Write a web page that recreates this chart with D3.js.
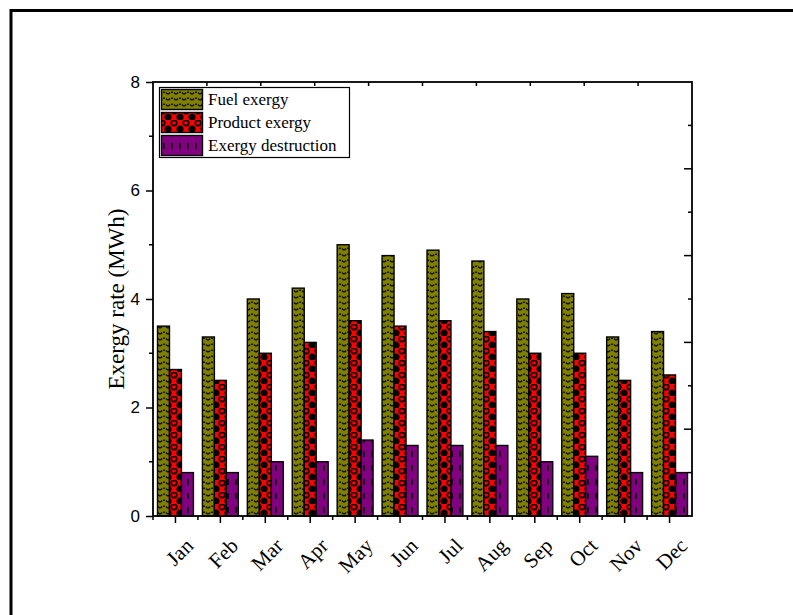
<!DOCTYPE html>
<html><head><meta charset="utf-8">
<script src="https://cdn.jsdelivr.net/npm/d3@7"></script>
<style>body{margin:0;background:#fff}svg{display:block}</style>
</head><body>
<svg id="c" width="793" height="615"></svg>
<script>
const months = ["Jan","Feb","Mar","Apr","May","Jun","Jul","Aug","Sep","Oct","Nov","Dec"];
const seriesNames = ["Fuel exergy","Product exergy","Exergy destruction"];
const fuelExergy = [3.5,3.3,4.0,4.2,5.0,4.8,4.9,4.7,4.0,4.1,3.3,3.4];
const productExergy = [2.7,2.5,3.0,3.2,3.6,3.5,3.6,3.4,3.0,3.0,2.5,2.6];
const exergyDestruction = [0.8,0.8,1.0,1.0,1.4,1.3,1.3,1.3,1.0,1.1,0.8,0.8];
const yTicks = [0,2,4,6,8];

const seriesValues = [fuelExergy, productExergy, exergyDestruction];
const svg = d3.select("#c");
const L=153, R=692, T=82, B=516;

// frame
svg.append("rect").attr("x",11).attr("y",10.5).attr("width",800).attr("height",620)
  .attr("fill","none").attr("stroke","#000").attr("stroke-width",3);

// patterns
const defs = svg.append("defs");
const p1 = defs.append("pattern").attr("id","pFuel").attr("patternUnits","userSpaceOnUse")
  .attr("width",8).attr("height",6);
p1.append("rect").attr("width",8).attr("height",6).attr("fill","#808000");
p1.append("path").attr("d","M0.3,4.2 Q4,0.2 7.7,4.2").attr("fill","none").attr("stroke","#000").attr("stroke-width",1.3).attr("stroke-dasharray","2.2,1");
const p2 = defs.append("pattern").attr("id","pProd").attr("patternUnits","userSpaceOnUse")
  .attr("width",12).attr("height",12);
p2.append("rect").attr("width",12).attr("height",12).attr("fill","#ff0000");
p2.append("circle").attr("cx",6).attr("cy",3).attr("r",3.6).attr("fill","#000");
p2.append("rect").attr("x",4.2).attr("y",1.5).attr("width",3.6).attr("height",3).attr("fill","#ff0000");
p2.append("circle").attr("cx",0).attr("cy",9).attr("r",3.6).attr("fill","#000");
p2.append("circle").attr("cx",12).attr("cy",9).attr("r",3.6).attr("fill","#000");
p2.append("rect").attr("x",4).attr("y",7).attr("width",4).attr("height",4).attr("fill","#ff0000");
const p3 = defs.append("pattern").attr("id","pDest").attr("patternUnits","userSpaceOnUse")
  .attr("width",8).attr("height",14);
p3.append("rect").attr("width",8).attr("height",14).attr("fill","#800080");
p3.append("line").attr("x1",4).attr("x2",4).attr("y1",3).attr("y2",9).attr("stroke","#000").attr("stroke-width",1.6);
const fills = ["url(#pFuel)","url(#pProd)","url(#pDest)"];

const x = d3.scaleBand().domain(months).range([L,R]).padding(0);
const xi = d3.scaleBand().domain(seriesNames).range([4.5, x.bandwidth()-4.5]).padding(0);
const y = d3.scaleLinear().domain([0,8]).range([B,T]);

// bars
seriesNames.forEach((s,si)=>{
  svg.append("g").selectAll("rect").data(seriesValues[si]).join("rect")
    .attr("x",(d,i)=>x(months[i])+xi(s))
    .attr("y",d=>y(d))
    .attr("width",xi.bandwidth())
    .attr("height",d=>B-y(d))
    .attr("fill",fills[si]).attr("stroke","#000").attr("stroke-width",1.4);
});

// axes
const ax = svg.append("g").attr("stroke","#000").attr("stroke-width",1.8).attr("fill","none");
ax.append("rect").attr("x",L).attr("y",T).attr("width",R-L).attr("height",B-T);

// left axis
const yAxis = d3.axisLeft(y).tickValues(yTicks).tickSize(7).tickPadding(6);
const gy = svg.append("g").attr("transform",`translate(${L},0)`).call(yAxis);
gy.select(".domain").remove();
gy.selectAll("line").attr("stroke-width",1.5);
gy.selectAll("text").attr("font-family","'Liberation Sans',Arial,sans-serif").attr("font-size",17).attr("fill","#000");
// left minor
svg.append("g").selectAll("line").data([1,3,5,7]).join("line")
  .attr("x1",L-4).attr("x2",L).attr("y1",d=>y(d)).attr("y2",d=>y(d)).attr("stroke","#000").attr("stroke-width",1.5);

// bottom axis
const xAxis = d3.axisBottom(x).tickSize(7).tickFormat("");
const gx = svg.append("g").attr("transform",`translate(0,${B})`).call(xAxis);
gx.select(".domain").remove();
gx.selectAll("line").attr("stroke-width",1.5);
// bottom minor
svg.append("g").selectAll("line").data(months).join("line")
  .attr("x1",d=>x(d)).attr("x2",d=>x(d)).attr("y1",B).attr("y2",B+4).attr("stroke","#000").attr("stroke-width",1.5);
// month labels
svg.append("g").selectAll("text").data(months).join("text")
  .attr("transform",d=>`translate(${x(d)+x.bandwidth()/2+8},${B+20}) rotate(-45)`)
  .attr("text-anchor","end").attr("dy","0.75em")
  .attr("font-family","'Liberation Serif','Times New Roman',serif").attr("font-size",21).attr("fill","#000")
  .text(d=>d);

// top axis ticks (inward)
const xt = d3.scaleLinear().domain([0,10]).range([L,R]);
svg.append("g").selectAll("line").data(d3.range(1,10)).join("line")
  .attr("x1",d=>xt(d)).attr("x2",d=>xt(d)).attr("y1",T).attr("y2",T+4).attr("stroke","#000").attr("stroke-width",1.5);
// right axis ticks (inward)
const yr = d3.scaleLinear().domain([0,10]).range([B,T]);
svg.append("g").selectAll("line").data(d3.range(1,10)).join("line")
  .attr("x1",R).attr("x2",d=>d%2===0?R-8:R-4).attr("y1",d=>yr(d)).attr("y2",d=>yr(d)).attr("stroke","#000").attr("stroke-width",1.5);

// y label
svg.append("text").attr("transform",`translate(124,${(T+B)/2}) rotate(-90)`)
  .attr("text-anchor","middle")
  .attr("font-family","'Liberation Serif','Times New Roman',serif").attr("font-size",23).attr("fill","#000")
  .text("Exergy rate (MWh)");

// legend
const lg = svg.append("g");
lg.append("rect").attr("x",159.5).attr("y",87.5).attr("width",190).attr("height",70)
  .attr("fill","#fff").attr("stroke","#000").attr("stroke-width",1.2);
seriesNames.forEach((s,i)=>{
  lg.append("rect").attr("x",161.5).attr("y",89.5+i*23).attr("width",41).attr("height",20)
    .attr("fill",fills[i]).attr("stroke","#000").attr("stroke-width",1.4);
  lg.append("text").attr("x",208).attr("y",99.5+i*23).attr("dy","0.35em")
    .attr("font-family","'Liberation Serif','Times New Roman',serif").attr("font-size",17).attr("fill","#000")
    .text(s);
});
</script>
</body></html>
